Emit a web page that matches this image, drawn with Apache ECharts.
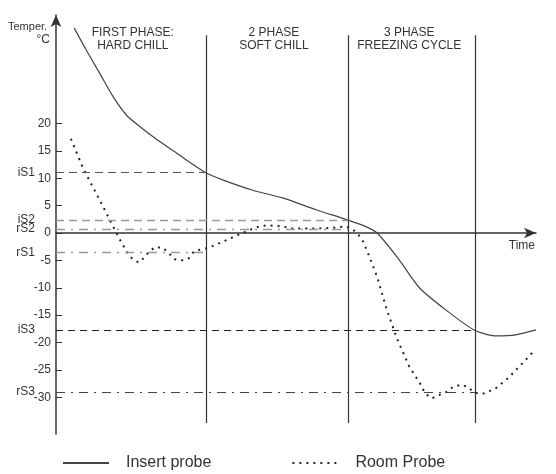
<!DOCTYPE html>
<html>
<head>
<meta charset="utf-8">
<script src="https://cdn.jsdelivr.net/npm/echarts@6/dist/echarts.min.js"></script>
<style>
  html, body { margin: 0; padding: 0; background: #fff; }
  #chart { width: 556px; height: 474px; }
</style>
</head>
<body>
<div id="chart"></div>
<script>
// insert probe (solid) - time in arbitrary units 0..100
var insertTime = [3.8, 6.3, 9.15, 11.9, 14.7, 17.5, 20.8, 24.3, 27.7, 31.4, 34.7, 41.0, 47.2, 54.3, 60.7, 64.2, 66.9, 71.5, 75.7, 81.3, 87.1, 91.7, 95.8, 100];
var insertTemp = [37.4, 33.4, 29.1, 24.9, 21.5, 19.4, 17.2, 15.1, 13.0, 10.9, 9.7, 7.8, 6.4, 4.2, 2.4, 1.3, 0, -4.9, -10.0, -14.1, -17.7, -18.8, -18.6, -17.7];

// room probe (dotted)
var roomTime = [3.1, 5.6, 9.4, 13.1, 14.8, 15.8, 17.2, 18.3, 19.3, 20.6, 22.3, 23.5, 24.7, 26.2, 27.7, 28.7, 30.2, 31.8, 34.7, 37.8, 40.8, 42.4, 44.1, 47.2, 49.1, 53.9, 57.0, 60.3, 61.8, 63.0, 64.0, 65.1, 66.9, 68.8, 71.0, 73.6, 75.8, 76.9, 78.3, 79.8, 81.4, 82.7, 84.4, 85.7, 87.1, 88.8, 90.0, 91.7, 94.2, 96.5, 98.8, 99.8];
var roomTemp = [17.2, 11.9, 5.5, -0.9, -3.5, -4.6, -5.4, -4.6, -3.5, -2.6, -2.7, -3.7, -4.8, -5.0, -4.6, -3.4, -3.0, -2.7, -1.6, -0.4, 0.7, 1.2, 1.4, 1.2, 0.8, 0.8, 0.9, 1.2, 0.7, -0.3, -1.6, -3.9, -8.0, -13.7, -19.2, -24.4, -27.4, -29.3, -30.2, -29.6, -29.0, -28.1, -27.7, -28.1, -29.1, -29.4, -29.0, -28.3, -26.5, -24.4, -22.3, -21.2];

// phases: boundaries on the time axis and headers
var phaseEnds = [31.4, 60.9, 87.3];
var phaseTitles = ['FIRST PHASE:\nHARD CHILL', '2 PHASE\nSOFT CHILL', '3 PHASE\nFREEZING CYCLE'];
var phaseCenters = [16.0, 45.4, 73.6];

// set points: name, temperature, end of line on time axis, style
var setNames = ['iS1', 'iS2', 'rS2', 'rS1', 'iS3', 'rS3'];
var setValues = [11, 2.4, 0.7, -3.6, -17.7, -29.0];
var setEnds = [31.4, 60.9, 60.9, 31.4, 87.3, 87.3];
var setKinds = ['dash', 'dashLight', 'dashDot', 'dashDot', 'dashDark', 'dashDotDark'];

var tickMin = -30, tickMax = 20;

var yMin = -36.7, yMax = 39.8;
var gridTop = 15, gridBottom = 40, chartH = 474;
var pxPerUnit = (chartH - gridTop - gridBottom) / (yMax - yMin);

var styles = {
  dash:        { color: '#555', type: [8, 5], width: 1 },
  dashLight:   { color: '#999', type: [8, 5], width: 1.4 },
  dashDark:    { color: '#222', type: [7, 5], width: 1.2 },
  dashDot:     { color: '#999', type: [9, 6, 2, 6], width: 1.3 },
  dashDotDark: { color: '#444', type: [9, 6, 2, 6], width: 1.2 }
};

var chart = echarts.init(document.getElementById('chart'));

var marks = [];
phaseEnds.forEach(function (x) {
  marks.push([
    { coord: [x, 36.1], lineStyle: { color: '#333', type: 'solid', width: 1.2 }, label: { show: false } },
    { coord: [x, -34.7] }
  ]);
});
setNames.forEach(function (n, i) {
  marks.push([
    { coord: [0, setValues[i]], lineStyle: styles[setKinds[i]],
      label: { show: true, position: 'start', formatter: n, distance: 21, color: '#333', fontSize: 12, fontFamily: 'Liberation Sans' } },
    { coord: [setEnds[i], setValues[i]] }
  ]);
});

var option = {
  animation: false,
  textStyle: { fontFamily: 'Liberation Sans' },
  grid: [
    { left: 56, right: 20, top: gridTop, bottom: gridBottom },
    { left: 56, right: 20, top: gridTop + (yMax - tickMax) * pxPerUnit, bottom: gridBottom + (tickMin - yMin) * pxPerUnit }
  ],
  xAxis: [
    { type: 'value', gridIndex: 0, min: 0, max: 100,
      axisLine: { show: true, symbol: ['none', 'arrow'], symbolSize: [8, 12], lineStyle: { color: '#333', width: 1.5 } },
      axisTick: { show: false }, axisLabel: { show: false }, splitLine: { show: false } },
    { type: 'value', gridIndex: 1, min: 0, max: 100, show: false }
  ],
  yAxis: [
    { type: 'value', gridIndex: 0, min: yMin, max: yMax,
      axisLine: { show: true, onZero: false, symbol: ['none', 'arrow'], symbolSize: [8, 12], lineStyle: { color: '#333', width: 1.5 } },
      axisTick: { show: false }, axisLabel: { show: false }, splitLine: { show: false } },
    { type: 'value', gridIndex: 1, min: tickMin, max: tickMax, interval: 5,
      axisLine: { show: false },
      axisTick: { show: true, inside: true, length: 6, lineStyle: { color: '#333', width: 1 } },
      axisLabel: { color: '#333', fontSize: 12, margin: 5 },
      splitLine: { show: false } }
  ],
  legend: {
    left: 57, top: 450,
    itemWidth: 46, itemHeight: 14, itemGap: 80,
    itemStyle: { opacity: 0 },
    textStyle: { color: '#333', fontSize: 16, padding: [0, 0, 0, 12] },
    data: ['Insert probe', 'Room Probe']
  },
  series: [
    {
      name: 'Insert probe', type: 'line', xAxisIndex: 0, yAxisIndex: 0,
      data: insertTime.map(function (t, i) { return [t, insertTemp[i]]; }),
      symbol: 'none', smooth: 0.25,
      lineStyle: { color: '#444', width: 1.2 },
      itemStyle: { color: '#444' },
      markLine: { silent: true, symbol: 'none', animation: false, data: marks }
    },
    {
      name: 'Room Probe', type: 'line', xAxisIndex: 0, yAxisIndex: 0,
      data: roomTime.map(function (t, i) { return [t, roomTemp[i]]; }),
      symbol: 'none',
      lineStyle: { color: '#222', width: 2, type: [2, 5] },
      itemStyle: { color: '#222' }
    }
  ]
};

chart.setOption(option);

// text labels placed through the axis scale
var gfx = [
  { type: 'text', left: 8, top: 21, style: { text: 'Temper.', fontSize: 11, fill: '#333', fontFamily: 'Liberation Sans' } },
  { type: 'text', right: 556 - 50, top: 34, style: { text: '°C', fontSize: 12, fill: '#333', fontFamily: 'Liberation Sans' } }
];
phaseTitles.forEach(function (t, i) {
  var p = chart.convertToPixel({ gridIndex: 0 }, [phaseCenters[i], 0]);
  gfx.push({ type: 'text', x: p[0], y: 26,
    style: { text: t, fontSize: 12, fill: '#333', align: 'center', lineHeight: 13, fontFamily: 'Liberation Sans' } });
});
var tp = chart.convertToPixel({ gridIndex: 0 }, [100, 0]);
gfx.push({ type: 'text', x: tp[0] - 1, y: tp[1] + 7,
  style: { text: 'Time', fontSize: 12, fill: '#333', align: 'right', fontFamily: 'Liberation Sans' } });
chart.setOption({ graphic: gfx });
</script>
</body>
</html>
